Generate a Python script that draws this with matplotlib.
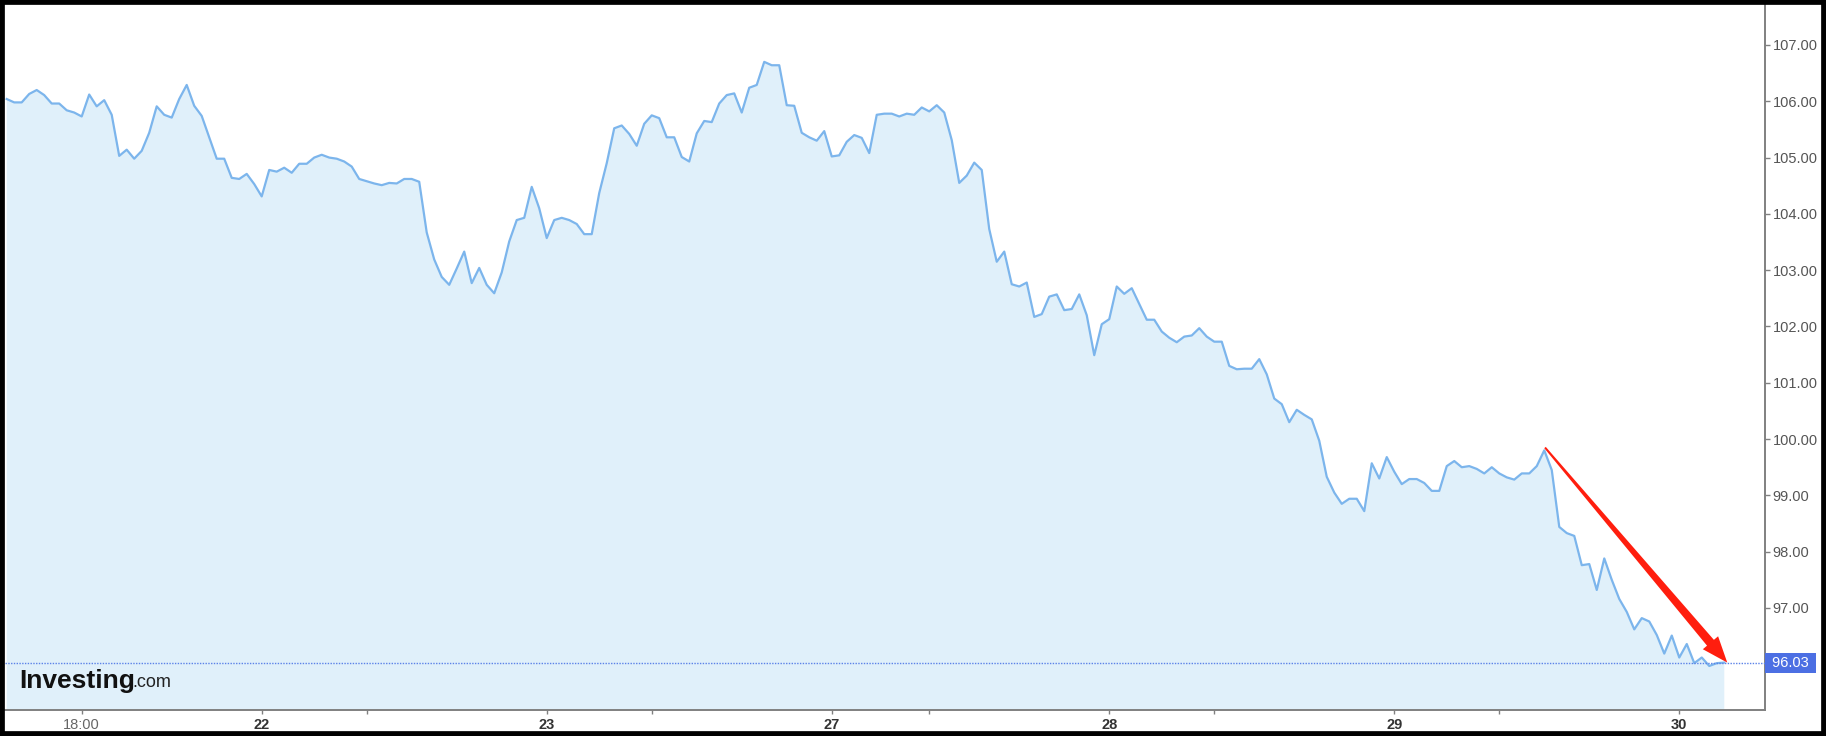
import numpy as np
import matplotlib
matplotlib.use("Agg")
import matplotlib.pyplot as plt
from matplotlib.patches import Polygon, Rectangle

plt.rcParams['font.family'] = ['Liberation Sans', 'DejaVu Sans']

# price series (one value per bar)
prices = [
    106.04, 105.98, 105.98, 106.13, 106.20, 106.11, 105.96, 105.96, 105.84, 105.80,
    105.73, 106.12, 105.91, 106.02, 105.76, 105.03, 105.14, 104.98, 105.12, 105.44,
    105.91, 105.76, 105.71, 106.04, 106.29, 105.92, 105.74, 105.36, 104.98, 104.98,
    104.64, 104.62, 104.71, 104.53, 104.31, 104.78, 104.75, 104.82, 104.73, 104.89,
    104.89, 105.00, 105.05, 105.00, 104.98, 104.93, 104.84, 104.62, 104.58, 104.54,
    104.51, 104.55, 104.54, 104.62, 104.62, 104.57, 103.67, 103.19, 102.88, 102.74,
    103.03, 103.33, 102.77, 103.04, 102.74, 102.59, 102.96, 103.51, 103.89, 103.93,
    104.48, 104.10, 103.57, 103.89, 103.93, 103.89, 103.82, 103.64, 103.64, 104.37,
    104.90, 105.52, 105.57, 105.42, 105.21, 105.60, 105.75, 105.70, 105.36, 105.36,
    105.01, 104.93, 105.43, 105.65, 105.63, 105.96, 106.11, 106.14, 105.80, 106.24,
    106.29, 106.70, 106.64, 106.64, 105.93, 105.92, 105.44, 105.36, 105.30, 105.47,
    105.02, 105.04, 105.28, 105.40, 105.35, 105.08, 105.76, 105.78, 105.78, 105.73,
    105.78, 105.76, 105.89, 105.82, 105.93, 105.80, 105.31, 104.55, 104.68, 104.91,
    104.78, 103.73, 103.15, 103.33, 102.75, 102.71, 102.78, 102.17, 102.22, 102.53,
    102.57, 102.29, 102.31, 102.57, 102.20, 101.49, 102.04, 102.13, 102.71, 102.58,
    102.68, 102.40, 102.12, 102.12, 101.91, 101.80, 101.72, 101.82, 101.84, 101.97,
    101.82, 101.73, 101.73, 101.30, 101.24, 101.25, 101.25, 101.42, 101.15, 100.72,
    100.62, 100.30, 100.52, 100.43, 100.35, 99.97, 99.33, 99.05, 98.85, 98.94,
    98.94, 98.72, 99.57, 99.30, 99.68, 99.42, 99.20, 99.29, 99.29, 99.22,
    99.08, 99.08, 99.52, 99.61, 99.50, 99.52, 99.47, 99.39, 99.50, 99.39,
    99.32, 99.28, 99.39, 99.39, 99.52, 99.80, 99.45, 98.44, 98.33, 98.28,
    97.76, 97.78, 97.32, 97.88, 97.50, 97.16, 96.93, 96.62, 96.82, 96.76,
    96.52, 96.19, 96.51, 96.12, 96.36, 96.02, 96.12, 95.97, 96.02, 96.03,
]
last_price = 96.03

# x axis: bar index of each tick and its label
major_ticks = [10, 34, 72, 110, 147, 185, 223]
major_labels = ['18:00', '22', '23', '27', '28', '29', '30']
minor_ticks = [48, 86, 123, 161, 199]

y_ticks = [97, 98, 99, 100, 101, 102, 103, 104, 105, 106, 107]

# red arrow drawn on top: (bar, price) start and end
arrow_from = (205.1, 99.85)
arrow_to = (229.4, 96.03)

W, H = 1826, 736
fig = plt.figure(figsize=(W / 100, H / 100), dpi=100, facecolor='white')
ax = fig.add_axes([5 / W, 26 / H, 1760 / W, 705 / H])

x = np.arange(len(prices))
ax.fill_between(x, prices, 90, color='#e0f0fa', lw=0, zorder=1)
ax.plot(x, prices, color='#7cb5ec', lw=1.6, zorder=3)

ax.set_xlim(-0.227, 234.43)
ax.set_ylim(95.188, 107.71)

# last price line + label
ax.axhline(last_price, color='#5b82e8', lw=1.0, ls=(0, (1, 1)), zorder=4)
ax.annotate(' %.2f ' % last_price, xy=(1, last_price), xycoords=('axes fraction', 'data'),
            xytext=(3, 0), textcoords='offset pixels', ha='left', va='center',
            color='white', fontsize=10.5,
            bbox=dict(boxstyle='square,pad=0.2', fc='#4c6fe3', ec='none'),
            annotation_clip=False, zorder=6)

# axes styling
for s in ['top', 'left']:
    ax.spines[s].set_visible(False)
for s in ['right', 'bottom']:
    ax.spines[s].set_color('#808080')
    ax.spines[s].set_linewidth(1.4)

ax.yaxis.tick_right()
ax.set_yticks(y_ticks)
ax.set_yticklabels(['%.2f' % v for v in y_ticks])
ax.tick_params(axis='y', direction='out', length=3.5, width=1, color='#808080',
               labelcolor='#555555', labelsize=10.5, pad=2)

ax.set_xticks(major_ticks)
ax.set_xticklabels(major_labels)
ax.set_xticks(minor_ticks, minor=True)
ax.tick_params(axis='x', which='both', direction='out', length=2.6, width=1,
               color='#808080', labelsize=10.5, pad=3)
for lbl in ax.get_xticklabels():
    if ':' in lbl.get_text():
        lbl.set_color('#666666')
    else:
        lbl.set_color('#333333')
        lbl.set_fontweight('bold')

# tapered red arrow, built in pixel space from its two end points
p0, p1 = ax.transData.transform([arrow_from, arrow_to])
d = p1 - p0
u = d / np.hypot(*d)
n = np.array([-u[1], u[0]])
head_len, head_w, w0, w1 = 26, 20, 2, 9
base = p1 - u * head_len
pts = [p0 + n * w0 / 2, base + n * w1 / 2, base + n * head_w / 2, p1,
       base - n * head_w / 2, base - n * w1 / 2, p0 - n * w0 / 2]
pts = ax.transData.inverted().transform(pts)
ax.add_patch(Polygon(pts, closed=True, fc='#ff1e0e', ec='none', zorder=7, clip_on=False))

# logo
t1 = fig.text(19 / W, (H - 688) / H, 'Investing', fontsize=19, fontweight='bold',
              color='#111111', va='baseline', ha='left', zorder=8)
ax.annotate('.com', xy=(1, 0), xycoords=t1, xytext=(-2, 2), textcoords='offset pixels',
            fontsize=13, color='#222222', va='bottom', ha='left', annotation_clip=False)

# black frame around the picture
fig.patches.append(Rectangle((0, 0), 1, 1, transform=fig.transFigure, fill=False,
                             ec='black', lw=7, clip_on=False))

fig.savefig('out.png', dpi=100, facecolor='white')
